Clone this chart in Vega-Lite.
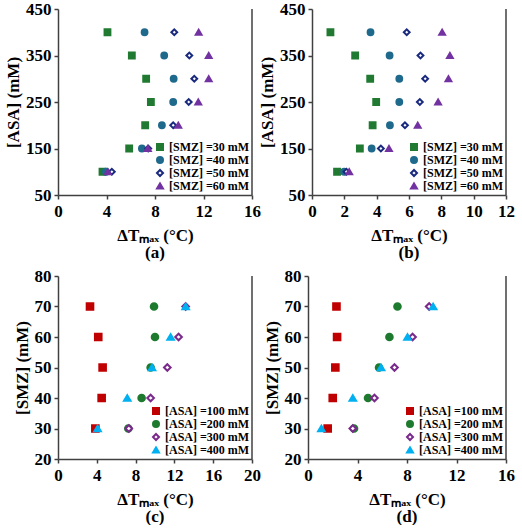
{
  "$schema": "https://vega.github.io/schema/vega-lite/v6.json",
  "background": "white",
  "padding": {"left": 4, "top": 0, "right": 2, "bottom": 0},
  "spacing": 6,
  "vconcat": [
    {
      "hconcat": [
        {
          "width": 194,
          "height": 186,
          "title": {"text": "(a)", "orient": "bottom", "offset": 2},
          "layer": [
            {
              "data": {"values": [
                {"s": "[SMZ] =30 mM", "asa": 100, "dT": 3.67},
                {"s": "[SMZ] =30 mM", "asa": 150, "dT": 5.87},
                {"s": "[SMZ] =30 mM", "asa": 200, "dT": 7.19},
                {"s": "[SMZ] =30 mM", "asa": 250, "dT": 7.66},
                {"s": "[SMZ] =30 mM", "asa": 300, "dT": 7.27},
                {"s": "[SMZ] =30 mM", "asa": 350, "dT": 6.09},
                {"s": "[SMZ] =30 mM", "asa": 400, "dT": 4.08},
                {"s": "[SMZ] =40 mM", "asa": 100, "dT": 3.95},
                {"s": "[SMZ] =40 mM", "asa": 150, "dT": 6.92},
                {"s": "[SMZ] =40 mM", "asa": 200, "dT": 8.57},
                {"s": "[SMZ] =40 mM", "asa": 250, "dT": 9.5},
                {"s": "[SMZ] =40 mM", "asa": 300, "dT": 9.54},
                {"s": "[SMZ] =40 mM", "asa": 350, "dT": 8.76},
                {"s": "[SMZ] =40 mM", "asa": 400, "dT": 7.14},
                {"s": "[SMZ] =50 mM", "asa": 100, "dT": 4.44},
                {"s": "[SMZ] =50 mM", "asa": 150, "dT": 7.44},
                {"s": "[SMZ] =50 mM", "asa": 200, "dT": 9.5},
                {"s": "[SMZ] =50 mM", "asa": 250, "dT": 10.78},
                {"s": "[SMZ] =50 mM", "asa": 300, "dT": 11.24},
                {"s": "[SMZ] =50 mM", "asa": 350, "dT": 10.83},
                {"s": "[SMZ] =50 mM", "asa": 400, "dT": 9.59},
                {"s": "[SMZ] =60 mM", "asa": 100, "dT": 4.11},
                {"s": "[SMZ] =60 mM", "asa": 150, "dT": 7.41},
                {"s": "[SMZ] =60 mM", "asa": 200, "dT": 9.92},
                {"s": "[SMZ] =60 mM", "asa": 250, "dT": 11.57},
                {"s": "[SMZ] =60 mM", "asa": 300, "dT": 12.43},
                {"s": "[SMZ] =60 mM", "asa": 350, "dT": 12.43},
                {"s": "[SMZ] =60 mM", "asa": 400, "dT": 11.6}
              ]},
              "mark": {"type": "point", "size": 34, "strokeWidth": 2, "opacity": 1},
              "encoding": {
                "x": {"field": "dT", "type": "quantitative", "title": "ΔTₘₐₓ (°C)",
                  "scale": {"domain": [0, 16], "nice": false}, "axis": {"values": [0, 4, 8, 12, 16], "labelOverlap": false}},
                "y": {"field": "asa", "type": "quantitative", "title": "[ASA] (mM)",
                  "scale": {"domain": [50, 450], "nice": false}, "axis": {"values": [50, 150, 250, 350, 450], "labelOverlap": false}},
                "shape": {"field": "s", "type": "nominal", "title": null,
                  "scale": {"domain": ["[SMZ] =30 mM", "[SMZ] =40 mM", "[SMZ] =50 mM", "[SMZ] =60 mM"],
                    "range": ["square", "circle", "diamond", "triangle-up"]}},
                "fill": {"field": "s", "type": "nominal", "title": null,
                  "scale": {"domain": ["[SMZ] =30 mM", "[SMZ] =40 mM", "[SMZ] =50 mM", "[SMZ] =60 mM"],
                    "range": ["#217a31", "#1f6a8c", "#ffffff", "#7232a2"]}},
                "stroke": {"field": "s", "type": "nominal", "title": null,
                  "scale": {"domain": ["[SMZ] =30 mM", "[SMZ] =40 mM", "[SMZ] =50 mM", "[SMZ] =60 mM"],
                    "range": ["#217a31", "#1f6a8c", "#1a2a7e", "#7232a2"]}}
              }
            },
            {
              "data": {"values": [{"edge": 16}]},
              "mark": {"type": "rule", "color": "#404040", "strokeWidth": 1.5},
              "encoding": {
                "x": {"field": "edge", "type": "quantitative", "title": "ΔTₘₐₓ (°C)",
                  "axis": {"values": [0, 4, 8, 12, 16], "labelOverlap": false}}
              }
            }
          ]
        },
        {
          "width": 194,
          "height": 186,
          "title": {"text": "(b)", "orient": "bottom", "offset": 2},
          "layer": [
            {
              "data": {"values": [
                {"s": "[SMZ] =30 mM", "asa": 100, "dT": 1.55},
                {"s": "[SMZ] =30 mM", "asa": 150, "dT": 2.96},
                {"s": "[SMZ] =30 mM", "asa": 200, "dT": 3.75},
                {"s": "[SMZ] =30 mM", "asa": 250, "dT": 3.97},
                {"s": "[SMZ] =30 mM", "asa": 300, "dT": 3.6},
                {"s": "[SMZ] =30 mM", "asa": 350, "dT": 2.67},
                {"s": "[SMZ] =30 mM", "asa": 400, "dT": 1.14},
                {"s": "[SMZ] =40 mM", "asa": 100, "dT": 1.99},
                {"s": "[SMZ] =40 mM", "asa": 150, "dT": 3.69},
                {"s": "[SMZ] =40 mM", "asa": 200, "dT": 4.82},
                {"s": "[SMZ] =40 mM", "asa": 250, "dT": 5.4},
                {"s": "[SMZ] =40 mM", "asa": 300, "dT": 5.4},
                {"s": "[SMZ] =40 mM", "asa": 350, "dT": 4.8},
                {"s": "[SMZ] =40 mM", "asa": 400, "dT": 3.62},
                {"s": "[SMZ] =50 mM", "asa": 100, "dT": 2.13},
                {"s": "[SMZ] =50 mM", "asa": 150, "dT": 4.26},
                {"s": "[SMZ] =50 mM", "asa": 200, "dT": 5.75},
                {"s": "[SMZ] =50 mM", "asa": 250, "dT": 6.67},
                {"s": "[SMZ] =50 mM", "asa": 300, "dT": 7.0},
                {"s": "[SMZ] =50 mM", "asa": 350, "dT": 6.71},
                {"s": "[SMZ] =50 mM", "asa": 400, "dT": 5.86},
                {"s": "[SMZ] =60 mM", "asa": 100, "dT": 2.3},
                {"s": "[SMZ] =60 mM", "asa": 150, "dT": 4.76},
                {"s": "[SMZ] =60 mM", "asa": 200, "dT": 6.54},
                {"s": "[SMZ] =60 mM", "asa": 250, "dT": 7.8},
                {"s": "[SMZ] =60 mM", "asa": 300, "dT": 8.44},
                {"s": "[SMZ] =60 mM", "asa": 350, "dT": 8.53},
                {"s": "[SMZ] =60 mM", "asa": 400, "dT": 8.05}
              ]},
              "mark": {"type": "point", "size": 34, "strokeWidth": 2, "opacity": 1},
              "encoding": {
                "x": {"field": "dT", "type": "quantitative", "title": "ΔTₘₐₓ (°C)",
                  "scale": {"domain": [0, 12], "nice": false}, "axis": {"values": [0, 2, 4, 6, 8, 10, 12], "labelOverlap": false}},
                "y": {"field": "asa", "type": "quantitative", "title": "[ASA] (mM)",
                  "scale": {"domain": [50, 450], "nice": false}, "axis": {"values": [50, 150, 250, 350, 450], "labelOverlap": false}},
                "shape": {"field": "s", "type": "nominal", "title": null,
                  "scale": {"domain": ["[SMZ] =30 mM", "[SMZ] =40 mM", "[SMZ] =50 mM", "[SMZ] =60 mM"],
                    "range": ["square", "circle", "diamond", "triangle-up"]}},
                "fill": {"field": "s", "type": "nominal", "title": null,
                  "scale": {"domain": ["[SMZ] =30 mM", "[SMZ] =40 mM", "[SMZ] =50 mM", "[SMZ] =60 mM"],
                    "range": ["#217a31", "#1f6a8c", "#ffffff", "#7232a2"]}},
                "stroke": {"field": "s", "type": "nominal", "title": null,
                  "scale": {"domain": ["[SMZ] =30 mM", "[SMZ] =40 mM", "[SMZ] =50 mM", "[SMZ] =60 mM"],
                    "range": ["#217a31", "#1f6a8c", "#1a2a7e", "#7232a2"]}}
              }
            },
            {
              "data": {"values": [{"edge": 12}]},
              "mark": {"type": "rule", "color": "#404040", "strokeWidth": 1.5},
              "encoding": {
                "x": {"field": "edge", "type": "quantitative", "title": "ΔTₘₐₓ (°C)",
                  "axis": {"values": [0, 2, 4, 6, 8, 10, 12], "labelOverlap": false}}
              }
            }
          ]
        }
      ],
      "spacing": -3,
      "resolve": {"scale": {"shape": "independent", "fill": "independent", "stroke": "independent"}}
    },
    {
      "hconcat": [
        {
          "width": 194,
          "height": 183,
          "title": {"text": "(c)", "orient": "bottom", "offset": 2},
          "layer": [
            {
              "data": {"values": [
                {"s": "[ASA] =100 mM", "smz": 30, "dT": 3.85},
                {"s": "[ASA] =100 mM", "smz": 40, "dT": 4.5},
                {"s": "[ASA] =100 mM", "smz": 50, "dT": 4.6},
                {"s": "[ASA] =100 mM", "smz": 60, "dT": 4.15},
                {"s": "[ASA] =100 mM", "smz": 70, "dT": 3.3},
                {"s": "[ASA] =200 mM", "smz": 30, "dT": 7.25},
                {"s": "[ASA] =200 mM", "smz": 40, "dT": 8.62},
                {"s": "[ASA] =200 mM", "smz": 50, "dT": 9.55},
                {"s": "[ASA] =200 mM", "smz": 60, "dT": 10.0},
                {"s": "[ASA] =200 mM", "smz": 70, "dT": 9.9},
                {"s": "[ASA] =300 mM", "smz": 30, "dT": 7.3},
                {"s": "[ASA] =300 mM", "smz": 40, "dT": 9.55},
                {"s": "[ASA] =300 mM", "smz": 50, "dT": 11.27},
                {"s": "[ASA] =300 mM", "smz": 60, "dT": 12.43},
                {"s": "[ASA] =300 mM", "smz": 70, "dT": 13.16},
                {"s": "[ASA] =400 mM", "smz": 30, "dT": 4.08},
                {"s": "[ASA] =400 mM", "smz": 40, "dT": 7.14},
                {"s": "[ASA] =400 mM", "smz": 50, "dT": 9.69},
                {"s": "[ASA] =400 mM", "smz": 60, "dT": 11.61},
                {"s": "[ASA] =400 mM", "smz": 70, "dT": 13.16}
              ]},
              "mark": {"type": "point", "size": 44, "strokeWidth": 2, "opacity": 1},
              "encoding": {
                "x": {"field": "dT", "type": "quantitative", "title": "ΔTₘₐₓ (°C)",
                  "scale": {"domain": [0, 20], "nice": false}, "axis": {"values": [0, 4, 8, 12, 16, 20], "labelOverlap": false}},
                "y": {"field": "smz", "type": "quantitative", "title": "[SMZ] (mM)",
                  "scale": {"domain": [20, 80], "nice": false}, "axis": {"values": [20, 30, 40, 50, 60, 70, 80], "labelOverlap": false}},
                "shape": {"field": "s", "type": "nominal", "title": null,
                  "scale": {"domain": ["[ASA] =100 mM", "[ASA] =200 mM", "[ASA] =300 mM", "[ASA] =400 mM"],
                    "range": ["square", "circle", "diamond", "triangle-up"]}},
                "fill": {"field": "s", "type": "nominal", "title": null,
                  "scale": {"domain": ["[ASA] =100 mM", "[ASA] =200 mM", "[ASA] =300 mM", "[ASA] =400 mM"],
                    "range": ["#c00000", "#1e7a2e", "#ffffff", "#00b0f0"]}},
                "stroke": {"field": "s", "type": "nominal", "title": null,
                  "scale": {"domain": ["[ASA] =100 mM", "[ASA] =200 mM", "[ASA] =300 mM", "[ASA] =400 mM"],
                    "range": ["#c00000", "#1e7a2e", "#7a2a8c", "#00b0f0"]}}
              }
            },
            {
              "data": {"values": [{"edge": 20}]},
              "mark": {"type": "rule", "color": "#404040", "strokeWidth": 1.5},
              "encoding": {
                "x": {"field": "edge", "type": "quantitative", "title": "ΔTₘₐₓ (°C)",
                  "axis": {"values": [0, 4, 8, 12, 16, 20], "labelOverlap": false}}
              }
            }
          ]
        },
        {
          "width": 198,
          "height": 183,
          "title": {"text": "(d)", "orient": "bottom", "offset": 2},
          "layer": [
            {
              "data": {"values": [
                {"s": "[ASA] =100 mM", "smz": 30, "dT": 1.59},
                {"s": "[ASA] =100 mM", "smz": 40, "dT": 2.0},
                {"s": "[ASA] =100 mM", "smz": 50, "dT": 2.21},
                {"s": "[ASA] =100 mM", "smz": 60, "dT": 2.35},
                {"s": "[ASA] =100 mM", "smz": 70, "dT": 2.3},
                {"s": "[ASA] =200 mM", "smz": 30, "dT": 3.72},
                {"s": "[ASA] =200 mM", "smz": 40, "dT": 4.85},
                {"s": "[ASA] =200 mM", "smz": 50, "dT": 5.74},
                {"s": "[ASA] =200 mM", "smz": 60, "dT": 6.58},
                {"s": "[ASA] =200 mM", "smz": 70, "dT": 7.23},
                {"s": "[ASA] =300 mM", "smz": 30, "dT": 3.62},
                {"s": "[ASA] =300 mM", "smz": 40, "dT": 5.37},
                {"s": "[ASA] =300 mM", "smz": 50, "dT": 6.99},
                {"s": "[ASA] =300 mM", "smz": 60, "dT": 8.45},
                {"s": "[ASA] =300 mM", "smz": 70, "dT": 9.79},
                {"s": "[ASA] =400 mM", "smz": 30, "dT": 1.08},
                {"s": "[ASA] =400 mM", "smz": 40, "dT": 3.62},
                {"s": "[ASA] =400 mM", "smz": 50, "dT": 5.9},
                {"s": "[ASA] =400 mM", "smz": 60, "dT": 8.04},
                {"s": "[ASA] =400 mM", "smz": 70, "dT": 10.11}
              ]},
              "mark": {"type": "point", "size": 44, "strokeWidth": 2, "opacity": 1},
              "encoding": {
                "x": {"field": "dT", "type": "quantitative", "title": "ΔTₘₐₓ (°C)",
                  "scale": {"domain": [0, 16], "nice": false}, "axis": {"values": [0, 4, 8, 12, 16], "labelOverlap": false}},
                "y": {"field": "smz", "type": "quantitative", "title": "[SMZ] (mM)",
                  "scale": {"domain": [20, 80], "nice": false}, "axis": {"values": [20, 30, 40, 50, 60, 70, 80], "labelOverlap": false}},
                "shape": {"field": "s", "type": "nominal", "title": null,
                  "scale": {"domain": ["[ASA] =100 mM", "[ASA] =200 mM", "[ASA] =300 mM", "[ASA] =400 mM"],
                    "range": ["square", "circle", "diamond", "triangle-up"]}},
                "fill": {"field": "s", "type": "nominal", "title": null,
                  "scale": {"domain": ["[ASA] =100 mM", "[ASA] =200 mM", "[ASA] =300 mM", "[ASA] =400 mM"],
                    "range": ["#c00000", "#1e7a2e", "#ffffff", "#00b0f0"]}},
                "stroke": {"field": "s", "type": "nominal", "title": null,
                  "scale": {"domain": ["[ASA] =100 mM", "[ASA] =200 mM", "[ASA] =300 mM", "[ASA] =400 mM"],
                    "range": ["#c00000", "#1e7a2e", "#7a2a8c", "#00b0f0"]}}
              }
            },
            {
              "data": {"values": [{"edge": 16}]},
              "mark": {"type": "rule", "color": "#404040", "strokeWidth": 1.5},
              "encoding": {
                "x": {"field": "edge", "type": "quantitative", "title": "ΔTₘₐₓ (°C)",
                  "axis": {"values": [0, 4, 8, 12, 16], "labelOverlap": false}}
              }
            }
          ]
        }
      ],
      "spacing": 2,
      "resolve": {"scale": {"shape": "independent", "fill": "independent", "stroke": "independent"}}
    }
  ],
  "resolve": {"scale": {"shape": "independent", "fill": "independent", "stroke": "independent"}},
  "config": {
    "font": "Liberation Serif",
    "view": {"stroke": null},
    "title": {"font": "Liberation Serif", "fontSize": 17, "fontWeight": "bold", "color": "black"},
    "axis": {
      "grid": false,
      "labelFont": "Liberation Serif", "labelFontSize": 17, "labelFontWeight": "bold", "labelColor": "black",
      "titleFont": "Liberation Serif", "titleFontSize": 17, "titleFontWeight": "bold", "titleColor": "black",
      "domainColor": "#404040", "domainWidth": 1.5, "tickColor": "#404040", "tickWidth": 1.5, "tickSize": 4,
      "labelFlush": false, "labelOverlap": false
    },
    "axisX": {"labelPadding": 4, "titlePadding": 8},
    "axisY": {"labelPadding": 3, "titlePadding": 3},
    "legend": {
      "orient": "bottom-right", "offset": 2,
      "labelFont": "Liberation Serif", "labelFontSize": 12, "labelFontWeight": "bold", "labelColor": "black",
      "symbolSize": 36, "symbolStrokeWidth": 2, "rowPadding": -3, "labelOffset": 3, "padding": 0
    }
  }
}
